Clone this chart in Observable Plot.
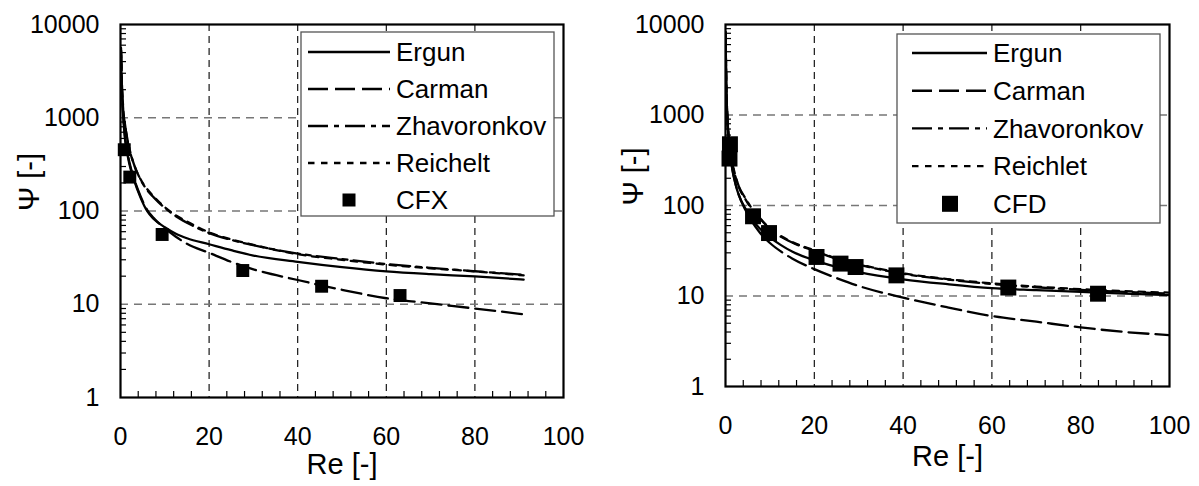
<!DOCTYPE html>
<html>
<head>
<meta charset="utf-8">
<script src="https://cdn.jsdelivr.net/npm/d3@7"></script>
<script src="https://cdn.jsdelivr.net/npm/@observablehq/plot@0.6"></script>
<style>
  html, body { margin: 0; padding: 0; background: #fff; }
  #wrap { display: flex; flex-direction: row; width: 1199px; height: 486px; }
  svg { overflow: visible; }
</style>
</head>
<body>
<div id="wrap"></div>
<script>
// ---------- Left chart (CFX) ----------
const reLeft     = [0.12, 0.3, 0.6, 1, 1.5, 2, 3, 4.5, 6, 7.5, 10, 12.5, 15, 20, 25, 30, 40, 50, 60, 70, 80, 91];
const ergunLeft  = [4700, 2000, 1050, 600, 420, 320, 220, 140, 100, 82, 67, 57, 51, 44, 38, 33.3, 28.5, 25, 22.5, 21, 19.9, 18.4];
const carmanLeft = [5300, 2150, 1100, 640, 440, 335, 226, 145, 103, 84, 65, 53, 44.5, 35.6, 28.5, 23.7, 18.2, 14.3, 11.6, 10.2, 9.0, 7.8];
const zhavLeft   = [5600, 2500, 1300, 860, 610, 470, 320, 218, 168, 140, 108, 88, 75, 58, 49, 43, 35, 30.5, 27, 24.6, 22.6, 20.7];
const reichLeft  = [5200, 2300, 1250, 850, 600, 460, 320, 220, 172, 143, 110, 90, 77, 59, 49.5, 43.3, 34.4, 30, 26.6, 24.3, 22.5, 20.4];
const cfxRe      = [0.85, 2.1, 9.4, 27.6, 45.4, 63.1];
const cfxPsi     = [454, 231, 56, 23, 15.6, 12.4];

// ---------- Right chart (CFD) ----------
const reRight     = [0.05, 0.1, 0.2, 0.4, 0.7, 1, 1.5, 2.25, 3, 4.5, 6, 7.5, 10, 12.5, 15, 20, 25, 30, 40, 50, 60, 70, 80, 90, 100];
const ergunRight  = [7500, 3700, 1850, 930, 540, 380, 255, 172, 130, 92, 70, 57, 44.5, 36.5, 31, 24.8, 21, 18.4, 15.3, 13.5, 12.2, 11.6, 11.1, 10.6, 10.2];
const carmanRight = [8000, 3900, 1950, 970, 560, 395, 262, 175, 131, 89, 66, 52, 38.5, 31, 26, 19.8, 15.8, 12.9, 9.6, 7.5, 6.0, 5.2, 4.5, 4.0, 3.7];
const zhavRight   = [8300, 4100, 2050, 1030, 610, 440, 305, 212, 163, 120, 92, 75, 55, 45, 39, 31.5, 25.8, 22.2, 17.6, 15.2, 13.6, 12.5, 11.7, 11.1, 10.6];
const reichRight  = [8000, 4000, 2000, 1000, 600, 430, 300, 207, 160, 117, 90, 74, 56, 46, 39.5, 32, 26, 22.5, 17.8, 15.4, 13.8, 12.7, 11.9, 11.3, 10.9];
const cfdRe       = [0.9, 1.0, 6.2, 9.8, 20.5, 25.9, 29.3, 38.5, 63.7, 83.9];
const cfdPsi      = [330, 475, 76, 49.6, 27, 22.8, 20.9, 16.9, 12.4, 10.6];

// ---------- Axis ticks ----------
const xTicks = [0, 20, 40, 60, 80, 100];
const xGrid = [20, 40, 60, 80];
const xMinor = d3.range(4, 100, 4).filter(v => v % 20 !== 0);
const yTicks = [1, 10, 100, 1000, 10000];
const yGrid = [10, 100, 1000];
const yMinor = [1, 10, 100, 1000].flatMap(d => d3.range(2, 10).map(k => k * d));

const styles = {
  ergun:  {dash: null, width: 2.3},
  carman: {dash: "20,7", width: 2.3},
  zhav:   {dash: "20,6,5,6", width: 2.3},
  reich:  {dash: "6.5,6.5", width: 2.3}
};

const FONT = "'Liberation Sans', Arial, Helvetica, sans-serif";

function toRows(re, vals) { return re.map((r, i) => ({re: r, psi: vals[i]})); }

function makeChart(cfg) {
  const lineMarks = cfg.series.map(s =>
    Plot.line(toRows(s.re, s.vals), {
      x: "re", y: "psi", stroke: "black", strokeWidth: styles[s.key].width,
      strokeDasharray: styles[s.key].dash, curve: "monotone-x", clip: true
    })
  );
  const chart = Plot.plot({
    width: cfg.width, height: cfg.height,
    marginLeft: cfg.ml, marginRight: cfg.mr, marginTop: cfg.mt, marginBottom: cfg.mb,
    x: {domain: [0, 100]},
    y: {type: "log", domain: [1, 10000]},
    style: {fontFamily: FONT, fontSize: "25px", color: "black", background: "white", overflow: "visible"},
    marks: [
      Plot.gridX(xGrid, {stroke: "black", strokeOpacity: 1, strokeWidth: 1.1, strokeDasharray: "7,5"}),
      Plot.gridY(yGrid, {stroke: "#777", strokeOpacity: 1, strokeWidth: 1.3, strokeDasharray: "8,6"}),
      Plot.axisX(xTicks, {tickSize: 0, tickPadding: 30, label: null, fontSize: 25}),
      Plot.axisX(xMinor, {tickSize: 6, dy: -6, tickFormat: () => "", label: null, strokeWidth: 1.2}),
      Plot.axisY(yTicks, {tickSize: 0, tickPadding: 21, label: null, fontSize: 25, tickFormat: d => String(d)}),
      Plot.axisY(yMinor, {tickSize: 6, dx: 6, tickFormat: () => "", label: null, strokeWidth: 1.2}),
      ...lineMarks,
      Plot.frame({stroke: "black", strokeWidth: 2.2}),
      Plot.dot(toRows(cfg.ptsRe, cfg.ptsPsi), {x: "re", y: "psi", symbol: "square", r: cfg.ptR, fill: "black", stroke: "none"}),
      Plot.text(["Re [-]"], {frameAnchor: "bottom", dy: cfg.xLabelDy, text: d => d, fontSize: 29, fill: "black"}),
      Plot.text(["Ψ [-]"], {frameAnchor: "left", dx: -cfg.yLabelDx, rotate: -90, text: d => d, fontSize: 29, fill: "black"})
    ]
  });

  // Legend box
  const L = cfg.legend;
  const svg = d3.select(chart);
  const g = svg.append("g")
    .style("font-family", FONT).style("font-size", "26px").style("text-anchor", "start");
  g.append("rect").attr("x", L.x).attr("y", L.y).attr("width", L.w).attr("height", L.h)
    .attr("fill", "white").attr("stroke", "#555").attr("stroke-width", 1.3);
  L.items.forEach((it, i) => {
    const cy = L.y0 + i * L.step;
    if (it.key) {
      const ln = g.append("line").attr("x1", L.lx1).attr("x2", L.lx2).attr("y1", cy).attr("y2", cy)
        .attr("stroke", "black").attr("stroke-width", 2.4);
      if (styles[it.key].dash) ln.attr("stroke-dasharray", styles[it.key].dash);
    } else {
      const s = L.sq;
      g.append("rect").attr("x", L.sqx - s / 2).attr("y", cy - s / 2).attr("width", s).attr("height", s).attr("fill", "black");
    }
    g.append("text").attr("x", L.tx).attr("y", cy).attr("dy", "0.35em")
      .style("text-anchor", "start").style("font-size", "26px").attr("fill", "black").text(it.label);
  });
  return chart;
}

const leftChart = makeChart({
  width: 600, height: 486, ml: 120, mr: 37, mt: 24, mb: 89,
  series: [
    {key: "carman", re: reLeft, vals: carmanLeft},
    {key: "zhav", re: reLeft, vals: zhavLeft},
    {key: "reich", re: reLeft, vals: reichLeft},
    {key: "ergun", re: reLeft, vals: ergunLeft}
  ],
  ptsRe: cfxRe, ptsPsi: cfxPsi, ptR: 7.3,
  xLabelDy: 76, yLabelDx: 91,
  legend: {x: 301, y: 32, w: 253, h: 184, y0: 52, step: 37, lx1: 308, lx2: 390, tx: 396, sqx: 349, sq: 13,
    items: [{key: "ergun", label: "Ergun"}, {key: "carman", label: "Carman"}, {key: "zhav", label: "Zhavoronkov"},
            {key: "reich", label: "Reichelt"}, {key: null, label: "CFX"}]}
});

const rightChart = makeChart({
  width: 599, height: 486, ml: 125, mr: 30, mt: 24, mb: 100,
  series: [
    {key: "carman", re: reRight, vals: carmanRight},
    {key: "zhav", re: reRight, vals: zhavRight},
    {key: "reich", re: reRight, vals: reichRight},
    {key: "ergun", re: reRight, vals: ergunRight}
  ],
  ptsRe: cfdRe, ptsPsi: cfdPsi, ptR: 9,
  xLabelDy: 79, yLabelDx: 92,
  legend: {x: 297, y: 34, w: 263, h: 189, y0: 53, step: 37.7, lx1: 312, lx2: 387, tx: 393, sqx: 350, sq: 16,
    items: [{key: "ergun", label: "Ergun"}, {key: "carman", label: "Carman"}, {key: "zhav", label: "Zhavoronkov"},
            {key: "reich", label: "Reichlet"}, {key: null, label: "CFD"}]}
});

const wrap = document.getElementById("wrap");
wrap.appendChild(leftChart);
wrap.appendChild(rightChart);
</script>
</body>
</html>
